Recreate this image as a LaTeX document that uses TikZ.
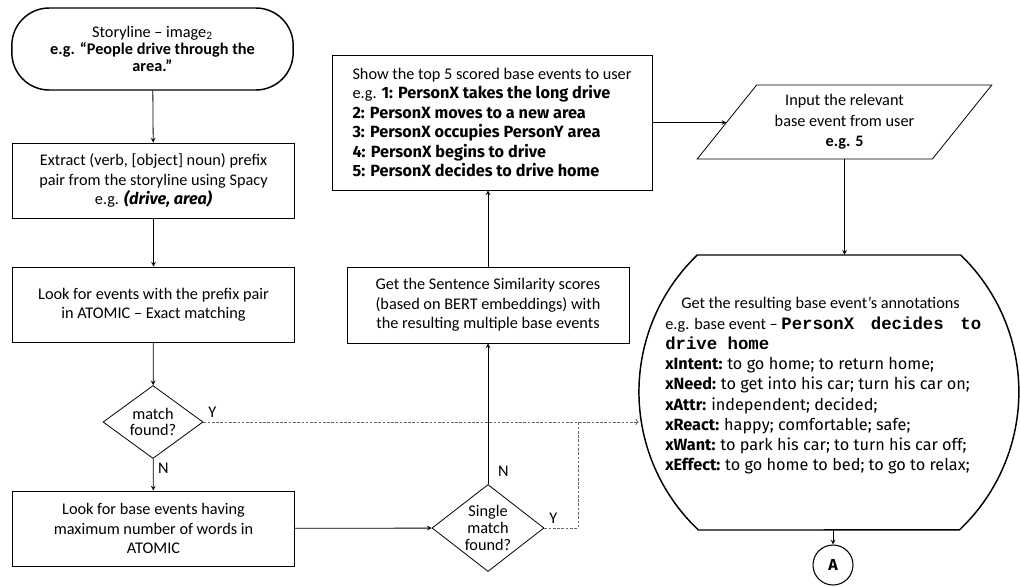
\documentclass[tikz,border=0pt]{standalone}
\usepackage{fontspec}
\setmainfont{Carlito}
\newfontfamily\comicfont{Fira Sans}
\newfontfamily\courfont{Liberation Mono}
\newcommand{\comicb}{\comicfont\bfseries}
\newcommand{\courb}{\courfont\bfseries\fontsize{13}{15}\selectfont}
\usepackage{tikz}
\usetikzlibrary{shapes}
\usetikzlibrary{calc}

\begin{document}
\begin{tikzpicture}[x=0.75pt, y=-0.75pt, font=\fontsize{12.2}{14.6}\selectfont]

		\tikzstyle{terminal} = [rectangle, draw, line width=1.1pt, rounded corners=28pt, align=center, minimum width=211pt, minimum height=61.5pt, font=\fontsize{12.2}{13}\selectfont]
		\tikzstyle{process}  = [rectangle, draw, line width=0.6pt, align=center, minimum width=212pt, minimum height=56pt, inner sep=2pt]
		\tikzstyle{decision} = [diamond, draw, line width=0.6pt, align=center, inner sep=0pt, font=\fontsize{12.2}{12.5}\selectfont]
		\tikzstyle{arrowline} = [draw, line width=0.6pt, -stealth]
		\tikzstyle{yesline} = [draw, black!60, line width=0.7pt, dash pattern=on 2pt off 1.2pt]
		\useasboundingbox (0,0) rectangle (1020,586);

		\node [terminal] (story) at (152.5,49) {Storyline -- image\textsubscript{2}\\\textbf{e.g. “People drive through the}\\\textbf{area.”}};
		\node [process, minimum height=56.25pt] (extract) at (153.5,180.5) {Extract (verb, [object] noun) prefix\\pair from the storyline using Spacy\\e.g. {\comicb\itshape (drive, area)}};
		\node [process, minimum height=56.25pt] (look) at (153.5,304.5) {Look for events with the prefix pair\\in ATOMIC -- Exact matching};
		\node [decision, minimum width=75pt, minimum height=54.75pt, aspect=1.37] (match) at (153,422) {match\\found?};
		\node [process, minimum height=56.25pt] (base) at (153.5,528.5) {Look for base events having\\maximum number of words in\\ATOMIC};
		\node [decision, minimum width=84pt, minimum height=65.25pt, aspect=1.29] (single) at (488,528) {Single\\match\\found?};
		\node [process, minimum width=211.5pt, minimum height=57pt] (sim) at (488,305) {Get the Sentence Similarity scores\\(based on BERT embeddings) with\\the resulting multiple base events};
		\node [process, minimum width=240pt, minimum height=101.25pt, align=left] (top5) at (492,122.5) {Show the top 5 scored base events to user\\e.g. {\comicb 1: PersonX takes the long drive}\\{\comicb 2: PersonX moves to a new area}\\{\comicb 3: PersonX occupies PersonY area}\\{\comicb 4: PersonX begins to drive}\\{\comicb 5: PersonX decides to drive home}};
		\node [trapezium, draw, line width=0.6pt, trapezium left angle=52, trapezium right angle=128, trapezium stretches=true, minimum width=221pt, minimum height=55.5pt, align=center, font=\fontsize{12.2}{15.5}\selectfont] (input) at (844.5,122) {Input the relevant\\base event from user\\\textbf{e.g. {\large 5}}};
		\node [minimum width=285pt, minimum height=206.25pt] (annbox) at (829,392.5) {};
		\draw [line width=1.1pt] (697.4,255) -- (960.6,255) arc [start angle=46.1, end angle=-46.6, radius=142.5pt] -- (698.4,530) arc [start angle=226.6, end angle=133.9, radius=142.5pt] -- cycle;
		\node [anchor=north west, inner sep=0pt, align=left, font=\fontsize{12.2}{15.2}\selectfont] (anntext) at (665,297) {\hspace*{12pt}Get the resulting base event’s annotations\\\makebox[237pt][l]{e.g. base event -- {\courb PersonX\hfill decides\hfill to}}\\{\courb drive home}\\{\comicb xIntent:} {\comicfont to go home; to return home;}\\{\comicb xNeed:} {\comicfont to get into his car; turn his car on;}\\{\comicb xAttr:} {\comicfont independent; decided;}\\{\comicb xReact:} {\comicfont happy; comfortable; safe;}\\{\comicb xWant:} {\comicfont to park his car; to turn his car off;}\\{\comicb xEffect:} {\comicfont to go home to bed; to go to relax;}};
		\node [circle, draw, line width=0.8pt, minimum size=30pt, inner sep=0pt, font=\comicb\large] (A) at (833,565) {A};
		\coordinate (yjoin) at (578,422);

		\draw [arrowline] (story) -- (extract);
		\draw [arrowline] (extract) -- (look);
		\draw [arrowline] (look) -- (match);
		\draw [arrowline] (match) -- node [right, pos=0.3] {N} (base);
		\draw [arrowline] (base) -- (single);
		\draw [arrowline] (single) -- node [right, pos=0.09, xshift=4pt] {N} (single |- sim.south);
		\draw [arrowline] (sim.north) -- (sim.north |- top5.south);
		\draw [arrowline] (top5.east) -- (top5.east -| input.west);
		\draw [arrowline] (input.south) -- (input.south |- annbox.north);
		\draw [yesline, -to] (match.east) -- node [above right, pos=0, text=black] {Y} (match.east -| annbox.west);
		\draw [yesline] (single.east) -| node [above right, pos=0, text=black] {Y} (yjoin);
		\draw [arrowline] (annbox.south -| A) -- (A);

	\end{tikzpicture}
\end{document}
